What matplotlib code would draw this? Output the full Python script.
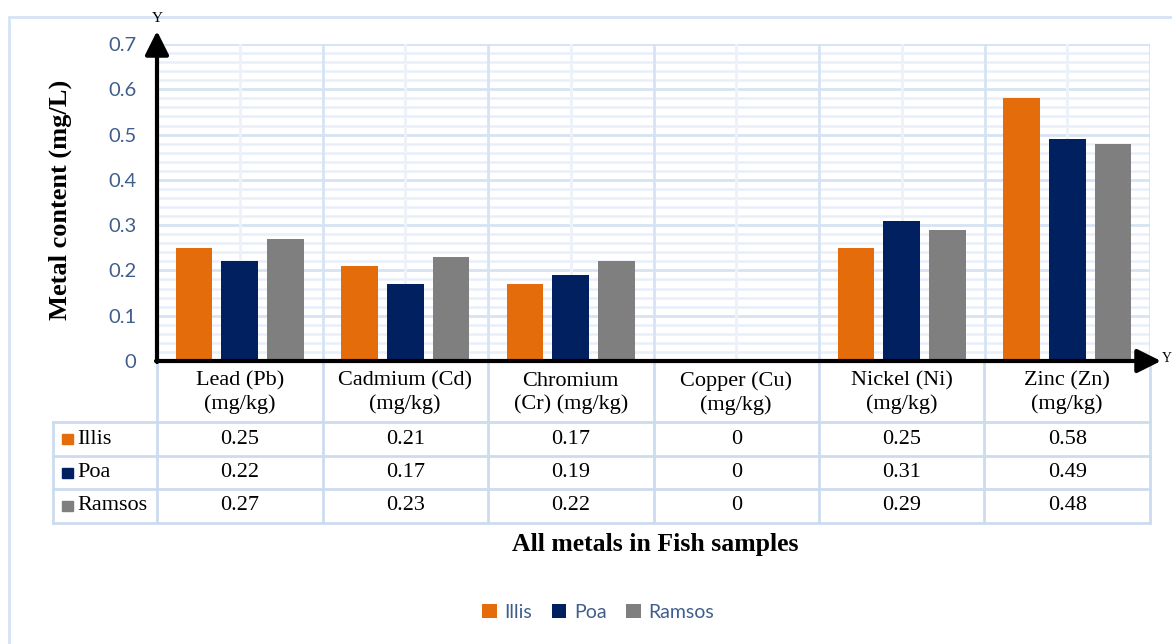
import numpy as np
import matplotlib.pyplot as plt
from matplotlib.patches import Rectangle, FancyArrowPatch

# metal concentrations in fish samples, per site
metals = ['Lead (Pb)\n(mg/kg)', 'Cadmium (Cd)\n(mg/kg)', 'Chromium\n(Cr) (mg/kg)',
          'Copper (Cu)\n(mg/kg)', 'Nickel (Ni)\n(mg/kg)', 'Zinc (Zn)\n(mg/kg)']
sites = ['Illis', 'Poa', 'Ramsos']
illis = [0.25, 0.21, 0.17, 0, 0.25, 0.58]
poa = [0.22, 0.17, 0.19, 0, 0.31, 0.49]
ramsos = [0.27, 0.23, 0.22, 0, 0.29, 0.48]
yticks = [0, 0.1, 0.2, 0.3, 0.4, 0.5, 0.6, 0.7]

colors = ['#E46C0A', '#002060', '#7F7F7F']
series = [illis, poa, ramsos]
tick_blue = '#3F5E8C'
serif = 'Liberation Serif'
sans = 'Lato'

W, H = 1172, 644
fig = plt.figure(figsize=(W / 100, H / 100), dpi=100)


def fx(x):
    return x / W


def fy(y):
    return 1 - y / H


# outer chart frame (runs off the right and bottom edges)
fig.add_artist(Rectangle((fx(9), fy(700)), fx(1300), fy(17) - fy(700),
                         transform=fig.transFigure, fill=False,
                         edgecolor='#D5E3F5', lw=2))

left, right, top, bottom = 157, 1150, 44, 361
ax = fig.add_axes([fx(left), fy(bottom), fx(right - left), fy(top) - fy(bottom)])
n = len(metals)
x = np.arange(n)
ax.set_xlim(-0.5, n - 0.5)
ax.set_ylim(0, 0.7)

# gridlines: major every 0.1, minor every 0.02, verticals at category edges/centres
for v in np.arange(0.02, 0.7, 0.02):
    if round(v * 50) % 5:
        ax.axhline(v, color='#E9EFF9', lw=1.8, zorder=0)
for v in yticks[1:]:
    ax.axhline(v, color='#D7E3F4', lw=2, zorder=0)
for i in range(n):
    ax.axvline(i, color='#EDF2FA', lw=2, zorder=0)
for i in range(n + 1):
    ax.axvline(i - 0.5, color='#D7E3F4', lw=2, zorder=0)

width = 0.222
offsets = [-0.276, 0, 0.276]
for vals, off, c, name in zip(series, offsets, colors, sites):
    ax.bar(x + off, vals, width, color=c, label=name, zorder=3)

ax.set_yticks(yticks)
ax.set_yticklabels(['0' if v == 0 else f'{v:.1f}' for v in yticks],
                   fontsize=14.5, color=tick_blue, family=sans)
ax.tick_params(axis='y', length=0, pad=15)
ax.set_xticks([])
for s in ax.spines.values():
    s.set_visible(False)

# axis arrows
arrow = dict(arrowstyle='-|>,head_length=0.9,head_width=0.45', color='black', lw=3,
             shrinkA=0, shrinkB=0, mutation_scale=16, transform=fig.transFigure)
fig.add_artist(FancyArrowPatch((fx(left), fy(bottom + 1)), (fx(left), fy(31)), **arrow))
fig.add_artist(FancyArrowPatch((fx(left - 1), fy(bottom)), (fx(1161), fy(bottom)), **arrow))
fig.text(fx(left), fy(18), 'Y', ha='center', va='center', fontsize=11, family=serif)
fig.text(fx(1162), fy(358), 'Y', ha='left', va='center', fontsize=10, family=serif)

# data table under the axis
tab_left, tab_bottom = 53, 523
cat_w = (right - left) / n
tab = fig.add_axes([fx(tab_left), fy(tab_bottom), fx(right - tab_left), fy(bottom) - fy(tab_bottom)])
tab.set_xlim(-0.5 - (left - tab_left) / cat_w, n - 0.5)
tab.set_ylim(tab_bottom - bottom, 0)
tab.axis('off')
line_c = '#CCDCF0'
row_edges = [61, 95, 128, 162]
for ry in row_edges:
    tab.plot([tab.get_xlim()[0], n - 0.5], [ry, ry], color=line_c, lw=2, clip_on=False)
for i in range(n + 1):
    tab.plot([i - 0.5, i - 0.5], [0, 162], color=line_c, lw=2, clip_on=False)
tab.plot([tab.get_xlim()[0]] * 2, [61, 162], color=line_c, lw=2, clip_on=False)

fs = 16
for i, m in enumerate(metals):
    tab.text(i, 32, m, ha='center', va='center', fontsize=fs, family=serif,
             linespacing=1.27)
sq_x = tab.get_xlim()[0] + 9 / cat_w
for r, (name, vals, c) in enumerate(zip(sites, series, colors)):
    yc = (row_edges[r] + row_edges[r + 1]) / 2
    tab.add_patch(Rectangle((sq_x, yc - 5), 11 / cat_w, 10, color=c, clip_on=False))
    tab.text(sq_x + 15 / cat_w, yc, name, ha='left', va='center', fontsize=fs,
             family=serif)
    for i, v in enumerate(vals):
        tab.text(i, yc, f'{v:g}', ha='center', va='center', fontsize=fs, family=serif)

fig.text(fx(60), fy(200), 'Metal content (mg/L)', rotation=90, ha='center', va='center',
         fontsize=19, fontweight='bold', family=serif)
fig.text(fx(655), fy(545), 'All metals in Fish samples', ha='center', va='center',
         fontsize=18.5, fontweight='bold', family=serif)

handles, labels = ax.get_legend_handles_labels()
leg = fig.legend(handles, labels, loc='center', bbox_to_anchor=(fx(598), fy(612)),
                 ncol=3, frameon=False, handlelength=0.75, handleheight=0.75,
                 handletextpad=0.4, columnspacing=1.0,
                 prop={'family': sans, 'size': 14})
for t in leg.get_texts():
    t.set_color(tick_blue)

fig.savefig('out.png', dpi=100, facecolor='white')
